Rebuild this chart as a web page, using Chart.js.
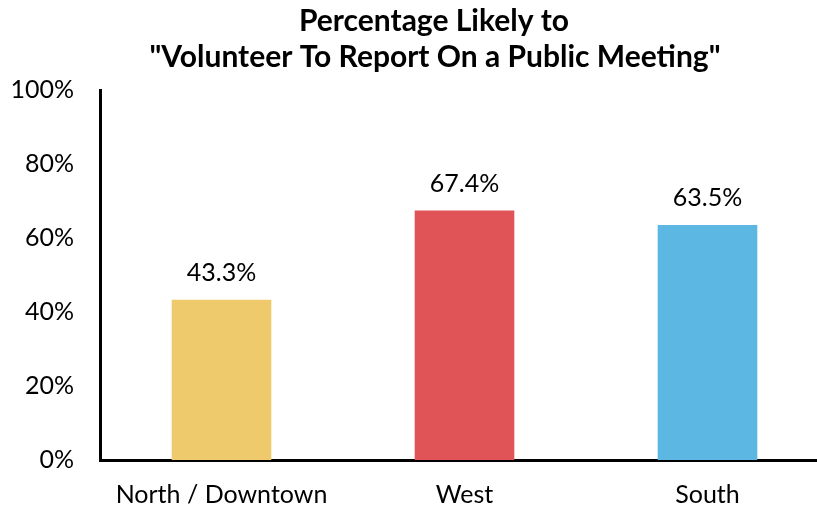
<!DOCTYPE html>
<html><head><meta charset="utf-8">
<script src="https://cdn.jsdelivr.net/npm/chart.js@4"></script>
<style>html,body{margin:0;padding:0;overflow:hidden;background:#fff;width:817px;height:510px}#w{width:830px;height:510px;position:relative}</style>
</head><body><div id="w"><canvas id="c" width="830" height="510"></canvas></div>
<script>
const categories = ["North / Downtown", "West", "South"];
const values = [43.3, 67.4, 63.5];
const colors = ["#EECA6C", "#E05458", "#5DB7E3"];
const titleLines = ["Percentage Likely to", "\"Volunteer To Report On a Public Meeting\""];
const FONT = "Lato, 'Open Sans', sans-serif";

const overlay = {
  id: 'overlay',
  afterDraw(chart) {
    const ctx = chart.ctx;
    ctx.save();
    ctx.fillStyle = '#000';
    ctx.textAlign = 'center';
    ctx.textBaseline = 'middle';
    ctx.font = "bold 30px " + FONT;
    ctx.fillText(titleLines[0], 434, 21);
    ctx.fillText(titleLines[1], 435, 57);
    ctx.font = "25px " + FONT;
    const meta = chart.getDatasetMeta(0);
    meta.data.forEach((bar, i) => {
      ctx.fillText(values[i].toFixed(1) + '%', bar.x, bar.y - 27);
    });
    ctx.restore();
  }
};

new Chart(document.getElementById('c'), {
  type: 'bar',
  data: {
    labels: categories,
    datasets: [{ data: values, backgroundColor: colors, barPercentage: 0.41, categoryPercentage: 1 }]
  },
  options: {
    responsive: false,
    animation: false,
    layout: { padding: { top: 90, right: 1, left: 0, bottom: 0 } },
    plugins: { legend: { display: false }, tooltip: { enabled: false }, title: { display: false } },
    scales: {
      x: {
        grid: { display: false, drawTicks: false },
        border: { display: true, color: '#000', width: 3 },
        ticks: { color: '#000', font: { family: FONT, size: 25 }, padding: 20 },
        afterFit(s) { s.height = 50; }
      },
      y: {
        min: 0, max: 100,
        grid: { display: false, drawTicks: false },
        border: { display: true, color: '#000', width: 3 },
        ticks: { stepSize: 20, color: '#000', font: { family: FONT, size: 25 }, padding: 26,
          callback: v => v + '%' },
        afterFit(s) { s.width = 100; }
      }
    }
  },
  plugins: [overlay]
});
</script></body></html>
